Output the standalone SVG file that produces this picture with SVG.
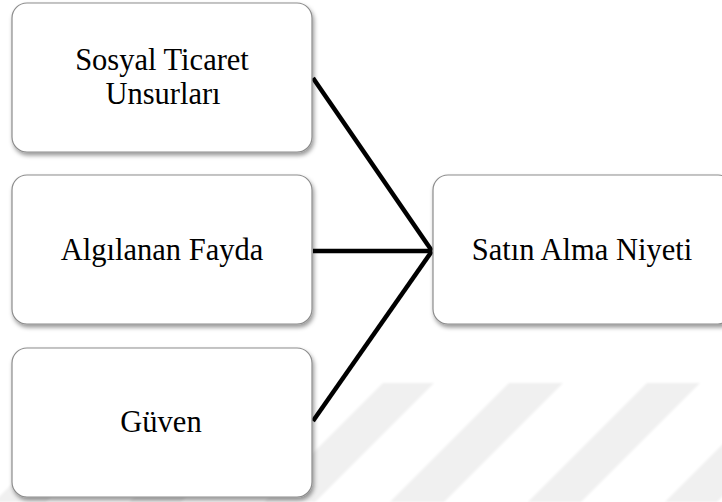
<svg xmlns="http://www.w3.org/2000/svg" width="722" height="502" viewBox="0 0 722 502">
  <defs>
    <filter id="shadow" x="-10%" y="-10%" width="125%" height="130%">
      <feDropShadow dx="1.5" dy="3" stdDeviation="2" flood-color="#000" flood-opacity="0.4"/>
    </filter>
    <filter id="soft" x="-5%" y="-5%" width="110%" height="110%">
      <feGaussianBlur stdDeviation="1"/>
    </filter>
  </defs>
  <style>
    .box { fill: #ffffff; stroke: #8c8c8c; stroke-width: 1.2; filter: url(#shadow); }
    .label { font-family: "Liberation Serif", "Times New Roman", serif; font-size: 30.5px; fill: #000; text-anchor: middle; }
    .link { stroke: #000; stroke-width: 4.5; fill: none; stroke-linecap: butt; }
    .stripe { fill: #f0f0f0; }
  </style>

  <rect width="722" height="502" fill="#ffffff"/>

  <!-- background diagonal band pattern -->
  <g id="bands" filter="url(#soft)">
    <polygon class="stripe" points="113,383 165,383 46,502 -6,502"/>
    <polygon class="stripe" points="248,383 300,383 181,502 129,502"/>
    <polygon class="stripe" points="383,383 434,383 315,502 264,502"/>
    <polygon class="stripe" points="509,383 563,383 444,502 390,502"/>
    <polygon class="stripe" points="647,383 700,383 581,502 528,502"/>
    <polygon class="stripe" points="784,383 836,383 717,502 665,502"/>
  </g>

  <!-- connectors -->
  <g id="connectors">
    <line class="link" x1="313" y1="78" x2="432" y2="251"/>
    <line class="link" x1="313" y1="251" x2="432" y2="251"/>
    <line class="link" x1="313" y1="421" x2="432" y2="251"/>
  </g>

  <g id="node-sosyal">
    <rect class="box" x="12" y="3" width="300" height="149" rx="15"/>
    <text class="label" x="162" y="70">Sosyal Ticaret</text>
    <text class="label" x="163" y="104">Unsurları</text>
  </g>

  <g id="node-fayda">
    <rect class="box" x="12" y="175" width="300" height="149" rx="15"/>
    <text class="label" x="162" y="260">Algılanan Fayda</text>
  </g>

  <g id="node-guven">
    <rect class="box" x="12" y="348" width="300" height="149" rx="15"/>
    <text class="label" x="161" y="432">Güven</text>
  </g>

  <g id="node-niyet">
    <rect class="box" x="433" y="175" width="300" height="149" rx="15"/>
    <text class="label" x="582" y="260">Satın Alma Niyeti</text>
  </g>
</svg>
